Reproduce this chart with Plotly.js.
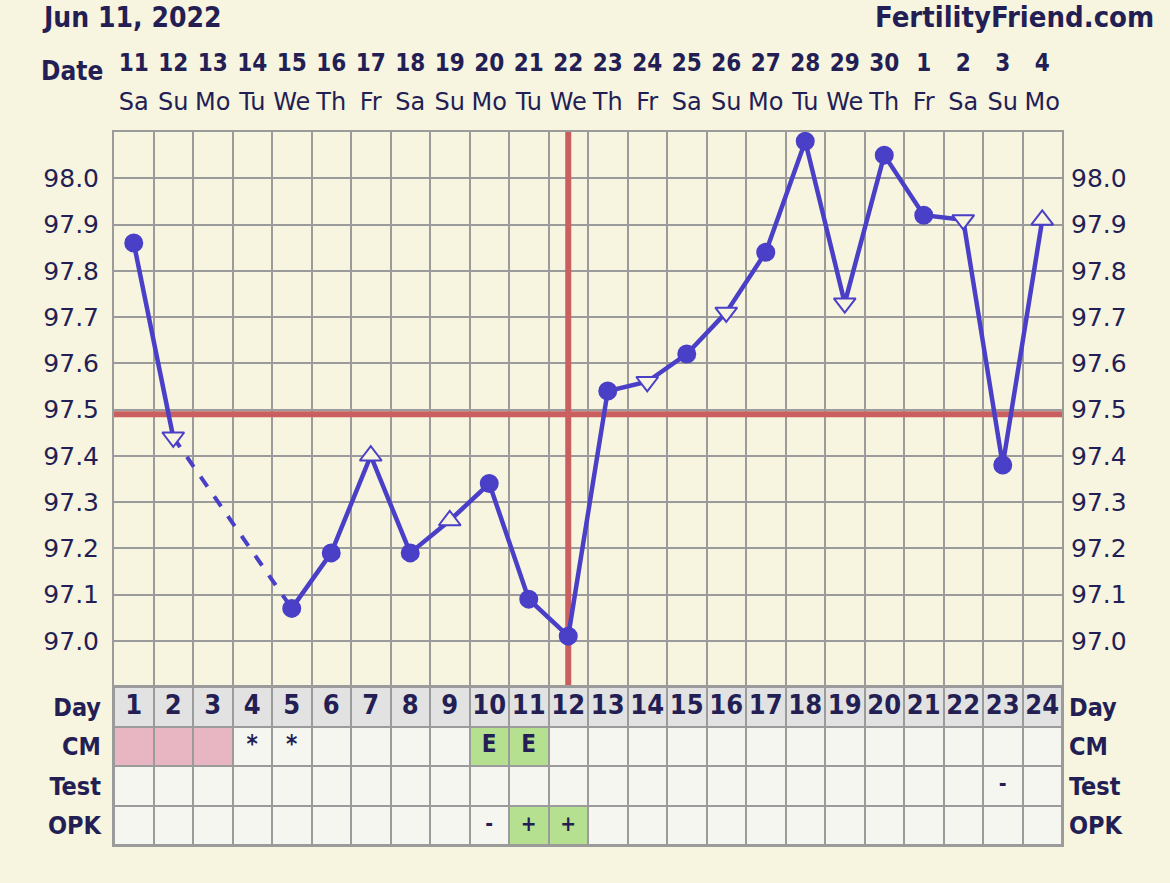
<!DOCTYPE html>
<html>
<head>
<meta charset="utf-8">
<script src="https://cdn.plot.ly/plotly-3.0.1.min.js"></script>
<style>
html,body{margin:0;padding:0;background:#f7f4df;}
#chart{width:1170px;height:883px;}
</style>
</head>
<body>
<div id="chart"></div>
<script>
// ---------- data ----------
const cycleDays   = [1,2,3,4,5,6,7,8,9,10,11,12,13,14,15,16,17,18,19,20,21,22,23,24];
const dateLabels  = ['11','12','13','14','15','16','17','18','19','20','21','22','23','24','25','26','27','28','29','30','1','2','3','4'];
const weekdays    = ['Sa','Su','Mo','Tu','We','Th','Fr','Sa','Su','Mo','Tu','We','Th','Fr','Sa','Su','Mo','Tu','We','Th','Fr','Sa','Su','Mo'];
const temps       = [97.86,97.44,null,null,97.07,97.19,97.40,97.19,97.26,97.34,97.09,97.01,97.54,97.56,97.62,97.71,97.84,98.08,97.73,98.05,97.92,97.91,97.38,97.91];
const markerShapes= ['circle','triangle-down','circle','circle','circle','circle','triangle-up','circle','triangle-up','circle','circle','circle','circle','triangle-down','circle','triangle-down','circle','circle','triangle-down','circle','circle','triangle-down','circle','triangle-up'];
const gapBridge   = [2,5];           // days joined by the dashed segment
const coverline   = 97.49;
const ovulationDay= 12;
const tempRange   = [96.9,98.1];
const dayRange    = [0.5,24.5];
const tempTicks   = [97.0,97.1,97.2,97.3,97.4,97.5,97.6,97.7,97.8,97.9,98.0];
const rowLabels   = ['OPK','Test','CM','Day'];
const cmText      = ['','','','*','*','','','','','E','E','','','','','','','','','','','','',''];
const cmCodes     = [2,2,2,0,0,0,0,0,0,3,3,0,0,0,0,0,0,0,0,0,0,0,0,0];
const testText    = ['','','','','','','','','','','','','','','','','','','','','','','-',''];
const testCodes   = [0,0,0,0,0,0,0,0,0,0,0,0,0,0,0,0,0,0,0,0,0,0,0,0];
const opkText     = ['','','','','','','','','','-','+','+','','','','','','','','','','','',''];
const opkCodes    = [0,0,0,0,0,0,0,0,0,0,3,3,0,0,0,0,0,0,0,0,0,0,0,0];
const dayCodes    = [1,1,1,1,1,1,1,1,1,1,1,1,1,1,1,1,1,1,1,1,1,1,1,1];
const headerTitle = 'Jun 11, 2022';
const siteName    = 'FertilityFriend.com';

// ---------- style ----------
const CREAM='#f7f4df', NAVY='#231f55', BLUE='#4a3fc7', RED='#c95f5f', GRID='#9b9b9b';
const COND='DejaVu Sans Condensed, DejaVu Sans, sans-serif';
const SANS='DejaVu Sans, Verdana, sans-serif';
const H=883, W=1170, L=114, R=108;
const fy = p => (H - p) / H;             // pixel row -> paper fraction
const fx = p => (p - L) / (W - L - R);   // pixel col -> paper fraction
const bold = s => '<b>' + s + '</b>';

const traces = [];

// table cells
traces.push({
  type:'heatmap', xaxis:'x2', yaxis:'y2',
  x: cycleDays, y:[0,1,2,3],
  z:[opkCodes, testCodes, cmCodes, dayCodes],
  zmin:0, zmax:3,
  colorscale:[[0,'#f6f6f1'],[0.3333,'#e2e2e2'],[0.6667,'#e8b5c3'],[1,'#b5e08f']],
  showscale:false, xgap:2, ygap:2, hoverinfo:'skip'
});
const rowText = (texts, row, size) => ({
  type:'scatter', mode:'text', xaxis:'x2', yaxis:'y2',
  x: cycleDays, y: cycleDays.map(() => row),
  text: texts.map(t => t ? bold(t) : ''),
  textfont:{family:COND, size:size, color:NAVY},
  hoverinfo:'skip', cliponaxis:false
});
traces.push(rowText(cycleDays.map(String), 3, 27));
traces.push(rowText(cmText, 2, 24));
traces.push(rowText(testText, 1, 21));
traces.push(rowText(opkText, 0, 21));

// placeholders so the header subplots exist
traces.push({type:'scatter', mode:'markers', xaxis:'x3', yaxis:'y5', x:[], y:[], hoverinfo:'skip'});
traces.push({type:'scatter', mode:'markers', xaxis:'x4', yaxis:'y6', x:[], y:[], hoverinfo:'skip'});

// coverline and ovulation line
traces.push({type:'scatter', mode:'lines', xaxis:'x', yaxis:'y',
  x: dayRange, y:[coverline, coverline], line:{color:RED, width:6}, hoverinfo:'skip'});
traces.push({type:'scatter', mode:'lines', xaxis:'x', yaxis:'y',
  x:[ovulationDay, ovulationDay], y: tempRange, line:{color:RED, width:6}, hoverinfo:'skip'});

// dashed bridge over missing days
traces.push({
  type:'scatter', mode:'lines', xaxis:'x', yaxis:'y',
  x: gapBridge, y: gapBridge.map(d => temps[d-1]),
  line:{color:BLUE, width:4, dash:'dash'}, hoverinfo:'skip'
});
// temperature line
traces.push({
  type:'scatter', mode:'lines+markers', xaxis:'x', yaxis:'y',
  x: cycleDays, y: temps, connectgaps:false, cliponaxis:false,
  line:{color:BLUE, width:4.5},
  marker:{
    symbol: markerShapes,
    size: markerShapes.map(s => s === 'circle' ? 17 : 19),
    opacity: 1,
    color: markerShapes.map(s => s === 'circle' ? BLUE : CREAM),
    line:{color:BLUE, width:2}
  }
});
// mirrored axes on the right
traces.push({type:'scatter', mode:'markers', xaxis:'x', yaxis:'y3', x:[], y:[], hoverinfo:'skip'});
traces.push({type:'scatter', mode:'markers', xaxis:'x2', yaxis:'y4', x:[], y:[], hoverinfo:'skip'});

const mainDomain  = [fy(687), fy(132)];
const tableDomain = [fy(845), fy(687)];

const layout = {
  width:W, height:H,
  margin:{l:L, r:R, t:0, b:0, pad:0},
  paper_bgcolor:CREAM, plot_bgcolor:CREAM,
  showlegend:false,
  font:{family:SANS, color:NAVY},
  xaxis:{domain:[0,1], anchor:'y', range:dayRange, tick0:0.5, dtick:1,
         showgrid:true, gridcolor:GRID, gridwidth:2, showticklabels:false, ticks:'',
         showline:true, mirror:true, linecolor:GRID, linewidth:2, zeroline:false, fixedrange:true},
  yaxis:{domain:mainDomain, anchor:'x', range:tempRange, tickvals:tempTicks,
         ticktext:tempTicks.map(v => v.toFixed(1)),
         showgrid:true, gridcolor:GRID, gridwidth:2, ticks:'',
         showline:true, mirror:true, linecolor:GRID, linewidth:2, zeroline:false,
         tickfont:{family:SANS, size:25, color:NAVY}, ticklabelstandoff:8, fixedrange:true},
  yaxis3:{overlaying:'y', anchor:'x', side:'right', range:tempRange, tickvals:tempTicks,
         ticktext:tempTicks.map(v => v.toFixed(1)), showgrid:false, zeroline:false, ticks:'',
         tickfont:{family:SANS, size:25, color:NAVY}, ticklabelstandoff:8, fixedrange:true},
  xaxis2:{domain:[0,1], anchor:'y2', range:dayRange, showgrid:false, showticklabels:false,
         ticks:'', showline:true, mirror:true, linecolor:GRID, linewidth:2, zeroline:false, fixedrange:true},
  yaxis2:{domain:tableDomain, anchor:'x2', range:[-0.5,3.5], tickvals:[0,1,2,3],
         ticktext:rowLabels.map(bold), showgrid:false, zeroline:false, ticks:'',
         showline:true, mirror:true, linecolor:GRID, linewidth:2,
         tickfont:{family:COND, size:25, color:NAVY}, ticklabelstandoff:6, fixedrange:true},
  yaxis4:{overlaying:'y2', anchor:'x2', side:'right', range:[-0.5,3.5], tickvals:[0,1,2,3],
         ticktext:rowLabels.map(bold), showgrid:false, zeroline:false, ticks:'',
         tickfont:{family:COND, size:25, color:NAVY}, ticklabelstandoff:6, fixedrange:true},
  // date numbers across the top
  xaxis3:{domain:[0,1], anchor:'y5', side:'top', range:dayRange,
         tickvals:cycleDays, ticktext:dateLabels.map(bold), showgrid:false, showline:false,
         zeroline:false, ticks:'', tickfont:{family:COND, size:24, color:NAVY}, fixedrange:true},
  yaxis5:{domain:[fy(79), fy(77)], anchor:'x3', range:[0,1], visible:false, fixedrange:true},
  // weekday names
  xaxis4:{domain:[0,1], anchor:'y6', side:'top', range:dayRange,
         tickvals:cycleDays, ticktext:weekdays, showgrid:false, showline:false,
         zeroline:false, ticks:'', tickfont:{family:SANS, size:24, color:NAVY}, fixedrange:true},
  yaxis6:{domain:[fy(118), fy(116)], anchor:'x4', range:[0,1], visible:false, fixedrange:true},
  shapes:[
    {type:'rect', xref:'x2 domain', yref:'y2 domain', x0:0, x1:1, y0:0, y1:1,
     fillcolor:GRID, line:{width:0}, layer:'below'}
  ],
  annotations:[
    {text:bold(headerTitle), xref:'paper', yref:'paper', x:fx(40), y:fy(17),
     xanchor:'left', yanchor:'middle', showarrow:false, font:{family:COND, size:28, color:NAVY}},
    {text:bold(siteName), xref:'paper', yref:'paper', x:fx(1156), y:fy(17),
     xanchor:'right', yanchor:'middle', showarrow:false, font:{family:COND, size:29, color:NAVY}},
    {text:bold('Date'), xref:'paper', yref:'paper', x:fx(105), y:fy(71),
     xanchor:'right', yanchor:'middle', showarrow:false, font:{family:COND, size:26, color:NAVY}}
  ]
};

Plotly.newPlot('chart', traces, layout, {displayModeBar:false, staticPlot:true});
</script>
</body>
</html>
